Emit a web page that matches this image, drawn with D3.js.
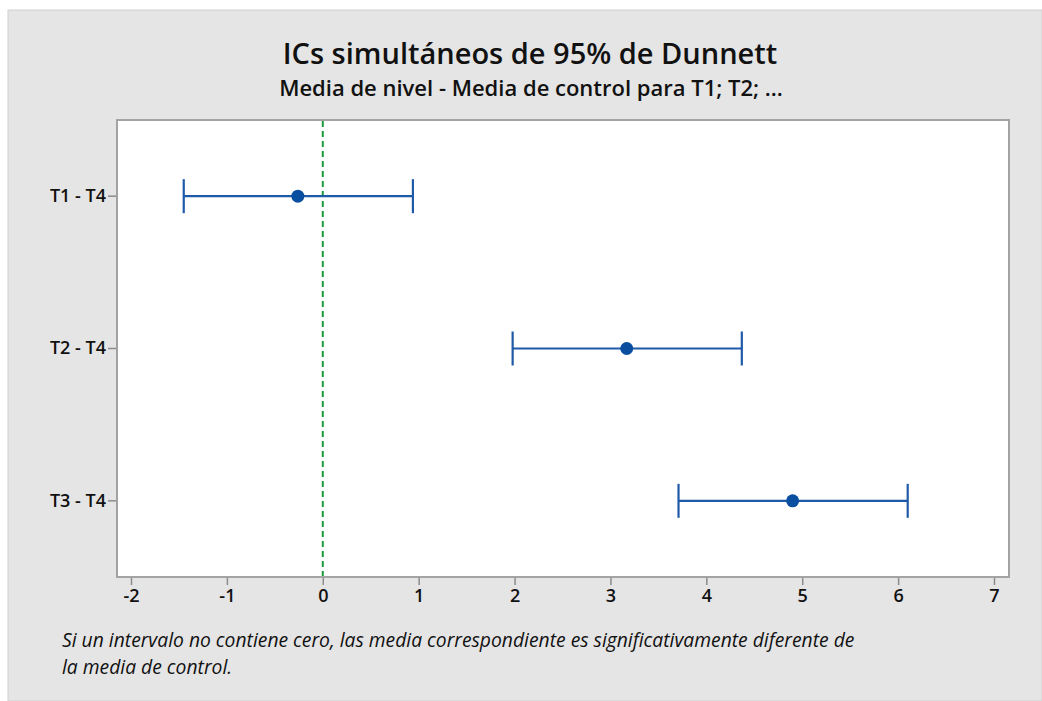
<!DOCTYPE html>
<html>
<head>
<meta charset="utf-8">
<script src="https://cdn.jsdelivr.net/npm/d3@7"></script>
<style>
  body { margin: 0; background: #fff; }
  svg { display: block; }
</style>
</head>
<body>
<script>
// comparaciones contra el control T4
const labels = ['T1 - T4', 'T2 - T4', 'T3 - T4'];
const centers = [-0.26, 3.17, 4.90];
const lower = [-1.45, 1.98, 3.71];
const upper = [0.94, 4.37, 6.10];
const xTicks = [-2, -1, 0, 1, 2, 3, 4, 5, 6, 7];

const width = 1042, height = 701;
const plotLeft = 117, plotRight = 1009, plotTop = 120, plotBottom = 577;

const svg = d3.select('body').append('svg')
  .attr('width', width)
  .attr('height', height);

svg.append('rect')
  .attr('x', 8).attr('y', 10)
  .attr('width', width - 8).attr('height', height - 10)
  .attr('fill', '#e5e5e5')
  .attr('stroke', '#d0d0d0');

svg.append('text')
  .attr('x', 530).attr('y', 64)
  .attr('text-anchor', 'middle')
  .style('font-family', 'Open Sans')
  .style('font-size', '29px')
  .style('font-weight', '600')
  .attr('fill', '#111')
  .text('ICs simultáneos de 95% de Dunnett');

svg.append('text')
  .attr('x', 531).attr('y', 96)
  .attr('text-anchor', 'middle')
  .style('font-family', 'Open Sans')
  .style('font-size', '22px')
  .style('font-weight', '600')
  .attr('fill', '#111')
  .text('Media de nivel - Media de control para T1; T2; ...');

svg.append('rect')
  .attr('x', plotLeft).attr('y', plotTop)
  .attr('width', plotRight - plotLeft).attr('height', plotBottom - plotTop)
  .attr('fill', '#fff')
  .attr('stroke', '#a3a3a3')
  .attr('stroke-width', 2);

let x = d3.scaleLinear()
  .domain([-2, 7])
  .range([131, 994]);

let y = d3.scaleBand()
  .domain(labels)
  .range([plotTop, plotBottom]);

let xAxis = d3.axisBottom(x).tickValues(xTicks).tickFormat(d => String(d)).tickSize(7).tickPadding(4);
let yAxis = d3.axisLeft(y).tickSize(8).tickPadding(2);

let gx = svg.append('g')
  .attr('transform', 'translate(0,' + (plotBottom + 1) + ')')
  .call(xAxis);
gx.select('.domain').remove();

let gy = svg.append('g')
  .attr('transform', 'translate(' + (plotLeft - 1) + ',0)')
  .call(yAxis);
gy.select('.domain').remove();

svg.selectAll('.tick line').attr('stroke', '#8c8c8c').attr('stroke-width', 1.5);
svg.selectAll('.tick text')
  .style('font-family', 'Open Sans')
  .style('font-size', '18px')
  .style('font-weight', '600')
  .attr('fill', '#111');

// linea de referencia en cero
svg.append('line')
  .attr('x1', x(0)).attr('x2', x(0))
  .attr('y1', plotTop + 1).attr('y2', plotBottom - 1)
  .attr('stroke', '#1a9a3c')
  .attr('stroke-width', 2)
  .attr('stroke-dasharray', '6,4');

let rows = labels.map((l, i) => ({ label: l, c: centers[i], lo: lower[i], hi: upper[i] }));
let cy = d => y(d.label) + y.bandwidth() / 2;

let g = svg.append('g');
g.selectAll('.bar')
  .data(rows).enter().append('line')
  .attr('x1', d => x(d.lo)).attr('x2', d => x(d.hi))
  .attr('y1', cy).attr('y2', cy)
  .attr('stroke', '#1f5aa8').attr('stroke-width', 2.2);

['lo', 'hi'].forEach(k => {
  g.selectAll('.cap-' + k)
    .data(rows).enter().append('line')
    .attr('x1', d => x(d[k])).attr('x2', d => x(d[k]))
    .attr('y1', d => cy(d) - 17).attr('y2', d => cy(d) + 17)
    .attr('stroke', '#1f5aa8').attr('stroke-width', 2.2);
});

g.selectAll('circle')
  .data(rows).enter().append('circle')
  .attr('cx', d => x(d.c))
  .attr('cy', cy)
  .attr('r', 6.5)
  .attr('fill', '#0a4f9f');

let note = svg.append('text')
  .style('font-family', 'Open Sans')
  .style('font-size', '19.3px')
  .style('font-style', 'italic')
  .attr('fill', '#111');
note.append('tspan').attr('x', 62).attr('y', 647)
  .text('Si un intervalo no contiene cero, las media correspondiente es significativamente diferente de');
note.append('tspan').attr('x', 62).attr('y', 674)
  .text('la media de control.');
</script>
</body>
</html>
